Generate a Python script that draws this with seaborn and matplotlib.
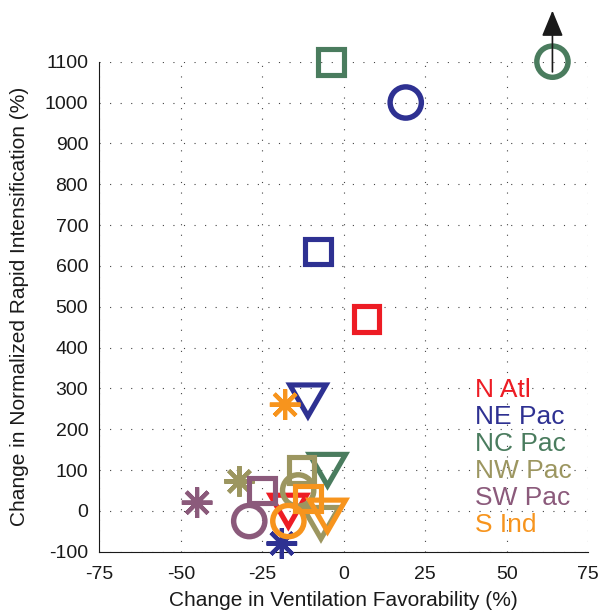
import numpy as np
import pandas as pd
import matplotlib
matplotlib.use("Agg")
import matplotlib.pyplot as plt
from matplotlib.markers import MarkerStyle
from matplotlib.path import Path
import seaborn as sns

# ---------------- data ----------------
regions = ["N Atl", "NE Pac", "NC Pac", "NW Pac", "SW Pac", "S Ind"]
region_colors = ["#ED1C24", "#2E3192", "#4A7C5E", "#9C9660", "#8B5A7B", "#F7941D"]

point_region = ["N Atl", "N Atl",
                "NE Pac", "NE Pac", "NE Pac", "NE Pac",
                "NC Pac", "NC Pac", "NC Pac",
                "NW Pac", "NW Pac", "NW Pac", "NW Pac",
                "SW Pac", "SW Pac", "SW Pac",
                "S Ind", "S Ind", "S Ind", "S Ind"]
point_shape = ["square", "triangle",
               "circle", "square", "triangle", "asterisk",
               "square", "circle", "triangle",
               "asterisk", "square", "circle", "triangle",
               "asterisk", "square", "circle",
               "asterisk", "circle", "square", "triangle"]
vent_change = [7, -17,
               19, -8, -11, -19,
               -4, 64, -5,
               -32, -13, -14, -7,
               -45, -25, -29,
               -18, -17, -11, -5]
ri_change = [470, 0,
             1000, 635, 270, -80,
             1100, 1100, 100,
             72, 100, 50, -30,
             20, 50, -25,
             260, -25, 30, -12]

offscale_region = "NC Pac"      # value exceeds the axis -> arrow
offscale_shape = "circle"

x_ticks = [-75, -50, -25, 0, 25, 50, 75]
y_ticks = list(range(-100, 1101, 100))
x_label = "Change in Ventilation Favorability (%)"
y_label = "Change in Normalized Rapid Intensification (%)"

# ---------------- style ----------------
sns.set_theme(style="white")
plt.rcParams["font.family"] = ["Liberation Sans", "DejaVu Sans"]
plt.rcParams["axes.unicode_minus"] = False

fig = plt.figure(figsize=(6, 6.1), dpi=100)
ax = fig.add_axes([0.1655, 0.0956, 0.815, 0.8033])

df = pd.DataFrame({"region": point_region, "shape": point_shape,
                   "vent": vent_change, "ri": ri_change})
cmap = dict(zip(regions, region_colors))

tri_path = Path([(-1, 0.866), (1, 0.866), (0, -0.866), (-1, 0.866)],
                [Path.MOVETO, Path.LINETO, Path.LINETO, Path.CLOSEPOLY])
markers = {
    "square": (MarkerStyle("s", fillstyle="none"), 18.5, 3.7),
    "circle": (MarkerStyle("o", fillstyle="none"), 22.5, 3.9),
    "triangle": (MarkerStyle(tri_path, fillstyle="none"), 26, 3.7),
    "asterisk": (MarkerStyle((8, 2, 0)), 22, 3.0),
}

for _, row in df.iterrows():
    mk, ms, lw = markers[row["shape"]]
    col = cmap[row["region"]]
    sns.scatterplot(x=[row["vent"]], y=[row["ri"]], marker=mk, s=ms ** 2,
                    color=col, linewidth=lw, legend=False, ax=ax)
    coll = ax.collections[-1]
    coll.set_facecolor("none")
    coll.set_edgecolor(col)
    coll.set_linewidth(lw)
    coll.set_joinstyle("miter")
    coll.set_clip_on(False)
    coll.set_zorder(3)

# arrow for the off-scale point
off = df[(df["region"] == offscale_region) & (df["shape"] == offscale_shape)].iloc[0]
ax.annotate("", xy=(off["vent"], off["ri"] + 125), xytext=(off["vent"], off["ri"] - 25),
            arrowprops=dict(arrowstyle="-|>,head_length=0.8,head_width=0.33",
                            color="k", lw=1.2, shrinkA=0, shrinkB=0,
                            mutation_scale=20),
            annotation_clip=False, zorder=4)

# axes
ax.set_xlim(-75, 75)
ax.set_ylim(-100, 1100)
ax.set_xticks(x_ticks)
ax.set_yticks(y_ticks)
ax.grid(True, linestyle=(0, (1, 8.5)), linewidth=0.8, color="#444444")
for s in ["top", "right"]:
    ax.spines[s].set_visible(False)
for s in ["left", "bottom"]:
    ax.spines[s].set_color("k")
    ax.spines[s].set_linewidth(0.8)
ax.tick_params(axis="both", direction="in", length=4, width=0.8, colors="k",
               labelsize=14)
ax.tick_params(axis="x", pad=10)
ax.tick_params(axis="y", pad=8)
ax.set_xlabel(x_label, fontsize=15, labelpad=6, color="k")
ax.set_ylabel(y_label, fontsize=15, labelpad=11, color="k")

# colored legend text
for i, (name, col) in enumerate(zip(regions, region_colors)):
    ax.text(0.768, 0.316 - i * 0.0551, name, color=col, fontsize=19,
            transform=ax.transAxes, ha="left", va="baseline")

fig.savefig("out.png", dpi=100)
